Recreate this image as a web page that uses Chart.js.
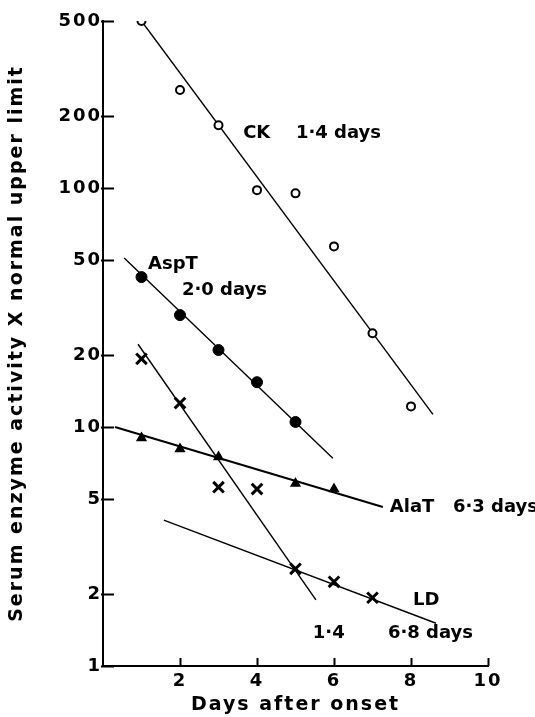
<!DOCTYPE html>
<html>
<head>
<meta charset="utf-8">
<script src="https://cdn.jsdelivr.net/npm/chart.js@4/dist/chart.umd.min.js"></script>
<style>
  html, body { margin: 0; padding: 0; background: #fff; }
  #wrap { width: 535px; height: 717px; position: relative; }
</style>
</head>
<body>
<div id="wrap"><canvas id="c"></canvas></div>
<script>
// Serum enzyme activity (multiples of the normal upper limit) by day after onset
const ckDays = [1, 2, 3, 4, 5, 6, 7, 8];
const ckValues = [500, 257, 183, 98, 95, 57, 24.7, 12.2];

const aspDays = [1, 2, 3, 4, 5];
const aspValues = [42.4, 29.4, 21.0, 15.4, 10.5];

const alaDays = [1, 2, 3, 5, 6];
const alaValues = [9.0, 8.1, 7.5, 5.8, 5.5];

const ldDays = [1, 2, 3, 4, 5, 6, 7];
const ldValues = [19.3, 12.6, 5.6, 5.5, 2.55, 2.25, 1.93];

// Fitted exponential decay lines (end points: day, activity)
const ckFitDays = [1.0, 8.57];
const ckFitValues = [500, 11.3];
const aspFitDays = [0.55, 5.97];
const aspFitValues = [51, 7.4];
const alaFitDays = [0.31, 7.27];
const alaFitValues = [10, 4.63];
const ldFastFitDays = [0.91, 5.53];
const ldFastFitValues = [22.2, 1.89];
const ldSlowFitDays = [1.58, 8.65];
const ldSlowFitValues = [4.08, 1.51];

// Axis ticks
const yTickValues = [1, 2, 5, 10, 20, 50, 100, 200, 500];
const xTickValues = [2, 4, 6, 8, 10];

// Half-life annotations, anchored in data coordinates (day, activity)
const noteTexts = ['CK', '1·4 days', 'AspT', '2·0 days', 'AlaT', '6·3 days', 'LD', '1·4', '6·8 days'];
const noteDays = [3.64, 5.01, 1.17, 2.05, 7.45, 9.09, 8.05, 5.45, 7.40];
const noteValues = [170, 170, 48, 37.4, 4.63, 4.63, 1.89, 1.375, 1.375];

const FONT = 'DejaVu Sans';
const zip = (xs, ys) => xs.map((x, i) => ({ x, y: ys[i] }));

function fitLine(xs, ys, width) {
  return {
    type: 'line', data: zip(xs, ys), borderColor: '#000', borderWidth: width,
    pointRadius: 0, fill: false, tension: 0, order: 2
  };
}
function marks(xs, ys, style, radius, bw, bg) {
  return {
    type: 'scatter', data: zip(xs, ys), pointStyle: style, pointRadius: radius,
    pointHoverRadius: radius, pointBorderWidth: bw, pointBorderColor: '#000',
    pointBackgroundColor: bg, showLine: false, order: 1
  };
}

// Wide tracking for the axis text
const spacing = {
  id: 'spacing',
  beforeLayout(chart) { chart.ctx.letterSpacing = '2px'; },
  beforeDraw(chart) { chart.ctx.letterSpacing = '2px'; }
};

// Tick marks pointing into the plot area, plus the text annotations
const extras = {
  id: 'extras',
  afterDraw(chart) {
    const { ctx, chartArea: a, scales: { x, y } } = chart;
    ctx.save();
    ctx.strokeStyle = '#000';
    ctx.lineWidth = 2;
    ctx.beginPath();
    yTickValues.forEach(v => {
      const py = Math.round(y.getPixelForValue(v)) + 0.5;
      ctx.moveTo(a.left - 2, py); ctx.lineTo(a.left + 11, py);
    });
    xTickValues.forEach(v => {
      const px = Math.round(x.getPixelForValue(v)) + 0.5;
      ctx.moveTo(px, a.bottom); ctx.lineTo(px, a.bottom - 8);
    });
    ctx.stroke();

    ctx.fillStyle = '#000';
    ctx.font = `bold 18px "${FONT}"`;
    ctx.letterSpacing = '0px';
    ctx.textAlign = 'left';
    ctx.textBaseline = 'middle';
    noteTexts.forEach((t, i) => {
      ctx.fillText(t, x.getPixelForValue(noteDays[i]), y.getPixelForValue(noteValues[i]));
    });
    ctx.restore();
  }
};

new Chart(document.getElementById('c'), {
  data: {
    datasets: [
      fitLine(ckFitDays, ckFitValues, 1.4),
      fitLine(aspFitDays, aspFitValues, 1.4),
      fitLine(alaFitDays, alaFitValues, 2),
      fitLine(ldFastFitDays, ldFastFitValues, 1.4),
      fitLine(ldSlowFitDays, ldSlowFitValues, 1.4),
      marks(ckDays, ckValues, 'circle', 4, 2, '#fff'),
      marks(aspDays, aspValues, 'circle', 5.5, 1, '#000'),
      marks(alaDays, alaValues, 'triangle', 5, 1.5, '#000'),
      marks(ldDays, ldValues, 'crossRot', 7.5, 3, '#000')
    ]
  },
  options: {
    responsive: true,
    maintainAspectRatio: false,
    animation: false,
    events: [],
    layout: { padding: { left: 0, top: 21, right: 47, bottom: 0 } },
    plugins: { legend: { display: false }, tooltip: { enabled: false } },
    scales: {
      x: {
        type: 'linear', position: 'bottom', min: 0, max: 10,
        afterBuildTicks: s => { s.ticks = xTickValues.map(v => ({ value: v })); },
        afterFit: s => { s.height = 51; },
        grid: { display: true, drawOnChartArea: false, drawTicks: false },
        border: { display: true, color: '#000', width: 2 },
        ticks: { color: '#000', padding: 5, font: { family: FONT, size: 18, weight: 'bold' } },
        title: {
          display: true, text: 'Days after onset', color: '#000',
          padding: { top: 0, bottom: 1 },
          font: { family: FONT, size: 19, weight: 'bold' }
        }
      },
      y: {
        type: 'logarithmic', position: 'left', min: 1, max: 500,
        afterBuildTicks: s => { s.ticks = yTickValues.map(v => ({ value: v })); },
        afterFit: s => { s.width = 103; },
        grid: { display: true, drawOnChartArea: false, drawTicks: false },
        border: { display: true, color: '#000', width: 2 },
        ticks: {
          color: '#000', padding: 1, font: { family: FONT, size: 18, weight: 'bold' },
          callback: v => String(v)
        },
        title: {
          display: true, text: 'Serum enzyme activity X normal upper limit', color: '#000',
          padding: { top: 6, bottom: 0 },
          font: { family: FONT, size: 19, weight: 'bold' }
        }
      }
    }
  },
  plugins: [spacing, extras]
});
</script>
</body>
</html>
